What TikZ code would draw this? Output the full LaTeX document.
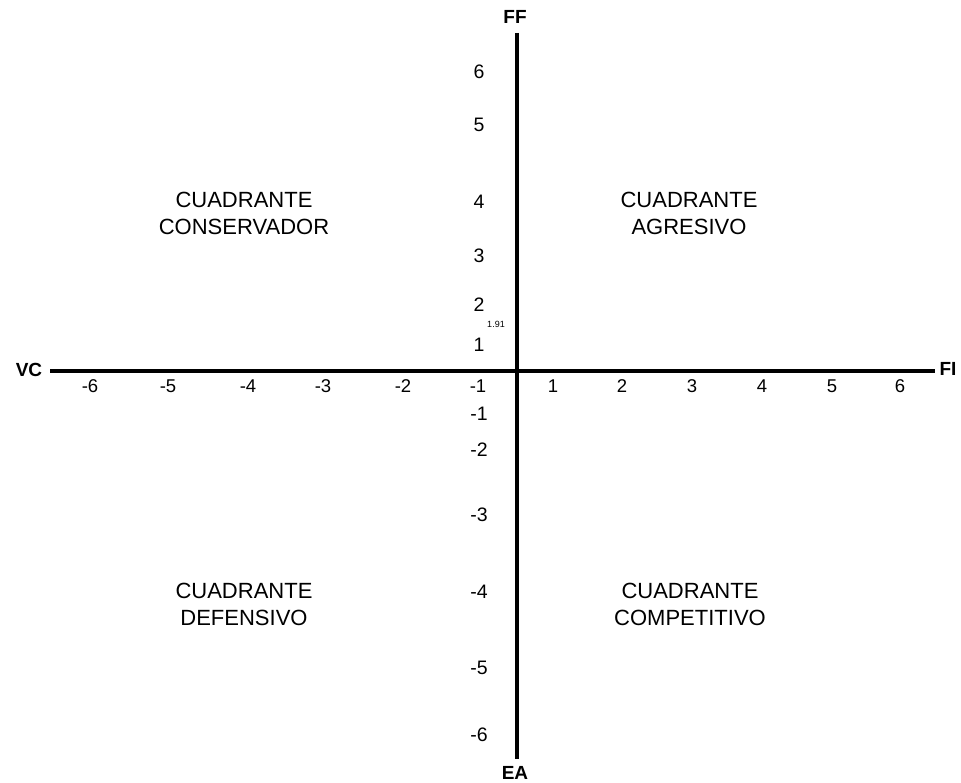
\documentclass[tikz,border=0pt]{standalone}
\usepackage{fontspec}
\setmainfont{Liberation Sans}
\usepackage{tikz}
\usetikzlibrary{positioning}
\tikzset{
  axisline/.style ={line width=4.5pt,black},
  axlab/.style    ={font=\fontsize{19}{19}\selectfont\bfseries,inner sep=0pt},
  xtick/.style    ={font=\fontsize{18.5}{18.5}\selectfont,inner sep=0pt},
  ytick/.style    ={font=\fontsize{19.5}{19.5}\selectfont,inner sep=0pt},
  quad/.style     ={align=center,font=\fontsize{22}{27}\selectfont,inner sep=0pt},
  mark191/.style  ={font=\fontsize{9}{9}\selectfont,inner sep=0pt},
}
\begin{document}
\begin{tikzpicture}[x=1pt,y=-1pt]
\useasboundingbox (0,0) rectangle (961,783);

% --- axes -----------------------------------------------------------------
\coordinate (xl) at (50,371);
\coordinate (xr) at (935,371);
\coordinate (yt) at (517,33);
\coordinate (yb) at (517,759);
\draw[axisline] (xl) -- (xr);
\draw[axisline] (yt) -- (yb);

\node[axlab] (vc) at (29,370) {VC};
\node[axlab] (fi) at (948,369) {FI};
\node[axlab] (ff) at (515,17)  {FF};
\node[axlab] (ea) at (515,773) {EA};

% --- ticks ----------------------------------------------------------------
\foreach \lab/\px in {-6/90,-5/168,-4/248,-3/323,-2/403,-1/478,
                      1/553,2/622,3/692,4/762,5/832,6/900}
  \node[xtick] (x\lab) at (\px,386) {\lab};
\foreach \lab/\py in {6/72,5/125,4/202,3/256,2/305,1/345,
                      -1/414,-2/450,-3/515,-4/592,-5/668,-6/735}
  \node[ytick] (y\lab) at (479,\py) {\lab};
\node[mark191] (v191) at (496,324) {1.91};

% --- quadrants ------------------------------------------------------------
\node[quad] (qcons) at (244,213) {CUADRANTE\\CONSERVADOR};
\node[quad] (qagre) at (689,213) {CUADRANTE\\AGRESIVO};
\node[quad] (qdefe) at (244,604) {CUADRANTE\\DEFENSIVO};
\node[quad] (qcomp) at (690,604) {CUADRANTE\\COMPETITIVO};

\end{tikzpicture}
\end{document}
